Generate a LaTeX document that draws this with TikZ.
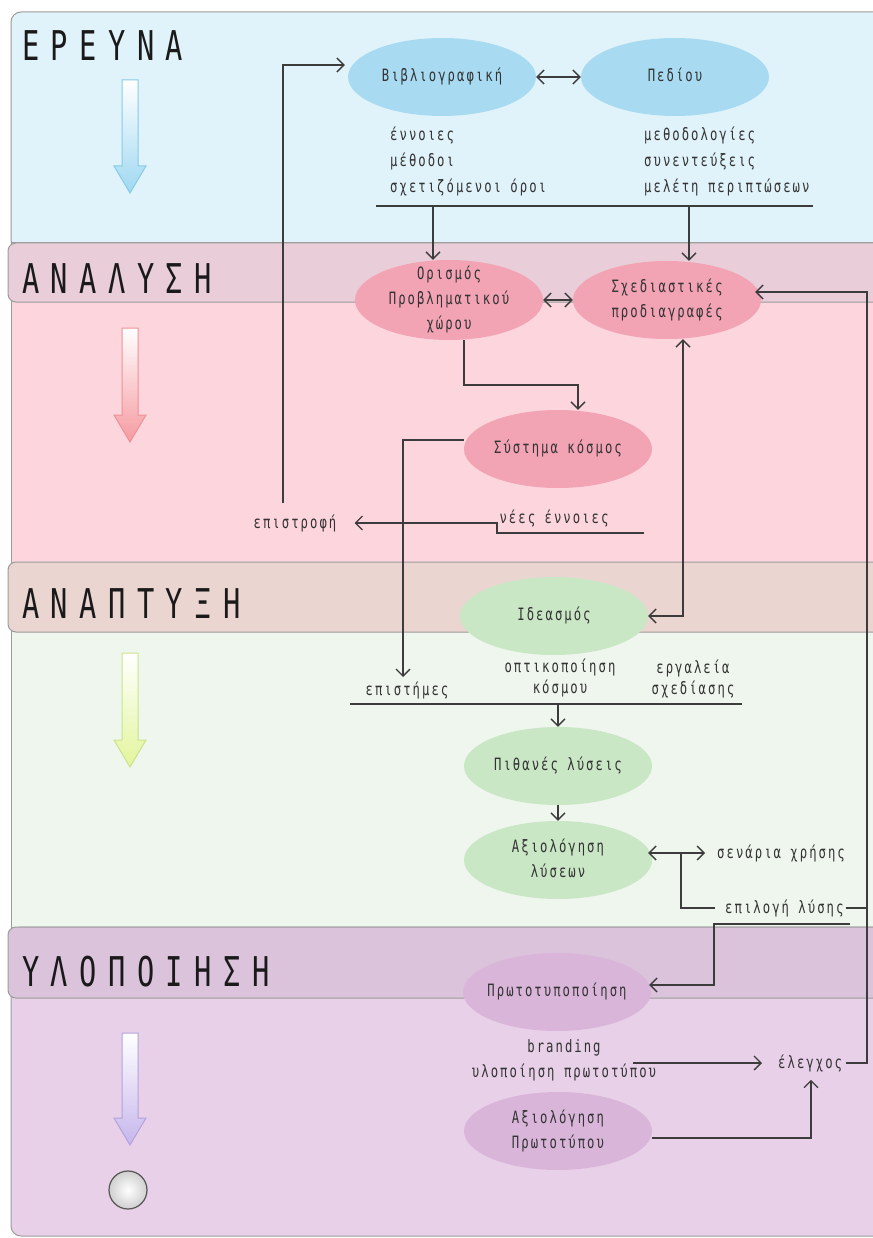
\documentclass[tikz,border=0pt]{standalone}
\usepackage{fontspec}
\usetikzlibrary{shapes.geometric,arrows.meta,calc}
\newfontfamily\phasefont[FakeStretch=0.7,LetterSpace=28]{DejaVu Sans Mono}
\newfontfamily\bodyfont[FakeStretch=0.72,LetterSpace=12]{DejaVu Sans Mono}

\definecolor{panelgray}{HTML}{9C9C9C}
\definecolor{resbody}{HTML}{E1F3FA}
\definecolor{anahead}{HTML}{E9CDD8}
\definecolor{anabody}{HTML}{FCD5DD}
\definecolor{devhead}{HTML}{EBD5D1}
\definecolor{devbody}{HTML}{EEF6ED}
\definecolor{imphead}{HTML}{DCC3DC}
\definecolor{impbody}{HTML}{E8D0E8}
\definecolor{bubblue}{HTML}{A8DBF2}
\definecolor{bubpink}{HTML}{F2A3B4}
\definecolor{bubgreen}{HTML}{C9E6C5}
\definecolor{bubpurple}{HTML}{D9B6D9}
\definecolor{txt}{HTML}{333333}
\definecolor{titlec}{HTML}{1A1A1A}
\definecolor{linec}{HTML}{3C3C3C}
\definecolor{arblue}{HTML}{9FD8F1}
\definecolor{arblueb}{HTML}{86CBE8}
\definecolor{arred}{HTML}{F59AA0}
\definecolor{arredb}{HTML}{EE9198}
\definecolor{argreen}{HTML}{E2F59C}
\definecolor{argreenb}{HTML}{CBE38A}
\definecolor{arpurple}{HTML}{C6B6EC}
\definecolor{arpurpleb}{HTML}{B2A3DC}
\definecolor{endring}{HTML}{555555}
\definecolor{endfill}{HTML}{CFCFCF}

% text set inside an ellipse without enlarging it
\newcommand\inell[1]{\smash{\makebox[0pt]{\raisebox{-4pt}{\begin{tabular}{@{}c@{}}#1\end{tabular}}}}}

% downward block arrow: x, top y, tip y, fill colour, border colour
\newcommand\phasearrow[5]{%
  \draw[draw=#5, line width=1pt, top color=white, bottom color=#4]
    (#1-8,#2) -- (#1+8,#2) -- (#1+8,#3-27) -- (#1+16,#3-27) -- (#1,#3)
    -- (#1-16,#3-27) -- (#1-8,#3-27) -- cycle;}

\tikzset{
  panel/.style={draw=panelgray, line width=1pt},
  phase/.style={anchor=base west, inner sep=0pt, text=titlec,
    font=\phasefont\fontsize{41}{41}\selectfont},
  bub/.style={ellipse, minimum width=188pt, minimum height=78pt, inner sep=0pt,
    text=txt, font=\bodyfont\fontsize{17}{25}\selectfont},
  lbl/.style={inner sep=0pt, text=txt, font=\bodyfont\fontsize{17}{26}\selectfont},
  conn/.style={draw=linec, line width=1.3pt},
  arr/.style={conn, -{Straight Barb[length=7pt,width=14pt]}},
  dbl/.style={conn, {Straight Barb[length=7pt,width=14pt]}-{Straight Barb[length=7pt,width=14pt]}},
}

\begin{document}
\begin{tikzpicture}[x={(1pt,0pt)}, y={(0pt,-1pt)}]
\useasboundingbox (0,0) rectangle (872,1238);
\fill[white] (0,0) rectangle (872,1238);

% phase panels
\draw[panel, fill=resbody, rounded corners=10pt] (11,12) rectangle (900,250);
\draw[panel, fill=anabody] (11,243) rectangle (900,570);
\draw[panel, fill=devbody] (11,563) rectangle (900,932);
\draw[panel, fill=impbody, rounded corners=10pt] (11,927) rectangle (900,1236);
\draw[panel, fill=anahead, rounded corners=8pt] (8,243) rectangle (900,302);
\draw[panel, fill=devhead, rounded corners=8pt] (8,562) rectangle (900,632);
\draw[panel, fill=imphead, rounded corners=8pt] (8,927) rectangle (900,998);

% phase titles
\node[phase] (tres) at (22,61) {ΕΡΕΥΝΑ};
\node[phase] (tana) at (22,294) {ΑΝΑΛΥΣΗ};
\node[phase] (tdev) at (22,618) {ΑΝΑΠΤΥΞΗ};
\node[phase] (timp) at (22,986) {ΥΛΟΠΟΙΗΣΗ};

% phase arrows
\phasearrow{130}{80}{193}{arblue}{arblueb}
\phasearrow{130}{328}{442}{arred}{arredb}
\phasearrow{130}{653}{767}{argreen}{argreenb}
\phasearrow{130}{1033}{1145}{arpurple}{arpurpleb}
\node[circle, minimum size=38pt, inner sep=0pt, draw=endring, line width=1.2pt,
  inner color=white, outer color=endfill] (finish) at (128,1190) {};

% ellipses
\node[bub, fill=bubblue] (bib) at (442,77) {\inell{Βιβλιογραφική}};
\node[bub, fill=bubblue] (ped) at (675,77) {\inell{Πεδίου}};
\node[bub, fill=bubpink, minimum height=80pt] (orism) at (449,300) {\inell{Ορισμός\\Προβληματικού\\χώρου}};
\node[bub, fill=bubpink] (sched) at (667,300) {\inell{Σχεδιαστικές\\προδιαγραφές}};
\node[bub, fill=bubpink] (syst) at (558,449) {\inell{Σύστημα κόσμος}};
\node[bub, fill=bubgreen] (idea) at (554,616) {\inell{Ιδεασμός}};
\node[bub, fill=bubgreen] (pith) at (558,766) {\inell{Πιθανές λύσεις}};
\node[bub, fill=bubgreen] (axl) at (558,860) {\inell{Αξιολόγηση\\λύσεων}};
\node[bub, fill=bubpurple] (proto) at (557,992) {\inell{Πρωτοτυποποίηση}};
\node[bub, fill=bubpurple] (aproto) at (558,1131) {\inell{Αξιολόγηση\\Πρωτοτύπου}};

% labels
\node[lbl, anchor=west, align=left] (rsl) at (390,161) {έννοιες\\μέθοδοι\\σχετιζόμενοι όροι};
\node[lbl, anchor=west, align=left] (rsr) at (644,161) {μεθοδολογίες\\συνεντεύξεις\\μελέτη περιπτώσεων};
\node[lbl] (ret) at (295,523) {επιστροφή};
\node[lbl] (newc) at (554,518) {νέες έννοιες};
\node[lbl] (epist) at (407,690) {επιστήμες};
\node[lbl, align=center, font=\bodyfont\fontsize{17}{21}\selectfont] (optik) at (560,678) {οπτικοποίηση\\κόσμου};
\node[lbl, align=center, font=\bodyfont\fontsize{17}{21}\selectfont] (ergal) at (693,679) {εργαλεία\\σχεδίασης};
\node[lbl, anchor=west] (senar) at (717,853) {σενάρια χρήσης};
\node[lbl, anchor=west] (epil) at (725,908) {επιλογή λύσης};
\node[lbl, align=center, font=\bodyfont\fontsize{17}{25}\selectfont] (brand) at (564,1060) {branding\\υλοποίηση πρωτοτύπου};
\node[lbl, anchor=west] (elen) at (778,1063) {έλεγχος};

% junction points
\coordinate (rbl) at (376,206);
\coordinate (rbr) at (813,206);
\coordinate (rd1) at (433,206);
\coordinate (rd2) at (689,206);
\coordinate (ok) at (464,385);
\coordinate (sk) at (403,677);
\coordinate (nc1) at (644,533);
\coordinate (nc2) at (497,533);
\coordinate (rv) at (283,503);
\coordinate (dl) at (350,704);
\coordinate (dr) at (742,704);
\coordinate (sj) at (681,853);
\coordinate (rt) at (867,292);
\coordinate (rb) at (867,1063);
\coordinate (pt0) at (850,924);
\coordinate (pt1) at (714,924);
\coordinate (ub) at (633,1063);
\coordinate (ek) at (811,1138);

% research
\draw[dbl] (bib) -- (ped);
\draw[conn] (rbl) -- (rbr);
\draw[arr] (rd1) -- (rd1 |- orism.north);
\draw[arr] (rd2) -- (rd2 |- sched.north);
\draw[arr] (rv) |- ($(bib.west)+(-3,-12)$);

% analysis
\draw[dbl] (orism) -- (sched);
\draw[arr] (orism.south -| ok) -- (ok) -| ($(syst.north)+(20,0)$);
\draw[arr] ($(syst.west)+(0,-9)$) -| (sk);
\draw[arr] (nc1) -- (nc2) |- ($(ret.east)+(18,0)$);
\draw[dbl] ($(sched.south)+(16,0)$) |- (idea.east);

% development
\draw[conn] (dl) -- (dr);
\draw[arr] (pith.north |- dl) -- (pith.north);
\draw[arr] (pith) -- (axl);
\draw[dbl] ($(axl.east)+(-4,-7)$) -- ($(senar.west)+(-12,0)$);
\draw[conn] (sj) |- ($(epil.west)+(-10,0)$);
\draw[conn] ($(epil.east)+(2,0)$) -- (epil.east -| rt);

% implementation and feedback
\draw[arr] (pt0) -- (pt1) |- ($(proto.east)+(-2,-7)$);
\draw[arr] (ub) -- ($(elen.west)+(-16,0)$);
\draw[arr] ($(aproto.east)+(0,7)$) -- (ek) -- ($(elen.south -| ek)+(0,8)$);
\draw[arr] ($(elen.east)+(4,0)$) -- (rb) -- (rt) -- ($(sched.east)+(-6,-8)$);
\end{tikzpicture}
\end{document}
